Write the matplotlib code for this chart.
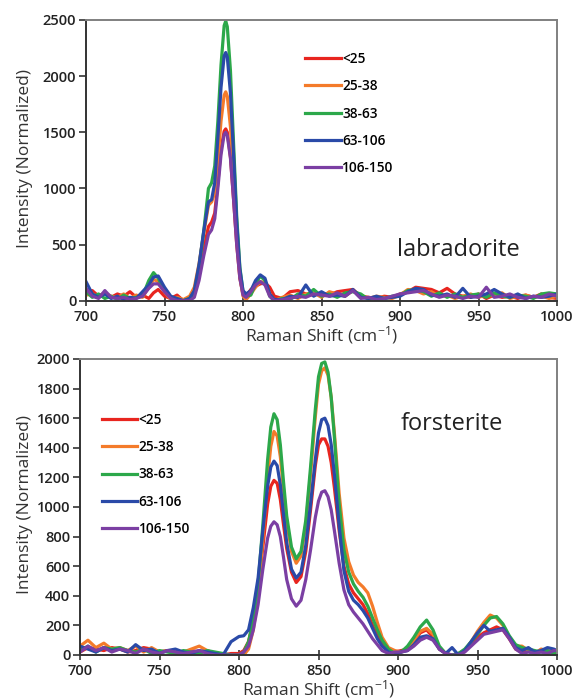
import numpy as np
import matplotlib
matplotlib.use("Agg")
import matplotlib.pyplot as plt

plt.rcParams['font.family'] = ['Open Sans', 'DejaVu Sans']
plt.rcParams['mathtext.default'] = 'regular'

# ----------------------------- data -----------------------------
labels = ['<25', '25-38', '38-63', '63-106', '106-150']
colors = ['#e8251f', '#f47b2a', '#2ca84a', '#2a4aa8', '#7b3fa3']

# labradorite
lab_x = ([700, 704, 708, 712, 716, 720, 724, 728, 732, 736, 740, 743, 746, 750, 754, 758, 762, 766]
         + [769, 772, 775, 778, 780, 782, 784, 786, 788, 789, 790, 792, 794, 796, 798, 800, 802]
         + [805, 808, 811, 814, 817, 820]
         + list(range(825, 1001, 5)))
lab_lt25 = ([60, 90, 40, 70, 30, 60, 40, 80, 30, 50, 20, 70, 100, 40, 20, 50, 0, 10]
            + [60, 250, 460, 660, 700, 780, 1050, 1350, 1510, 1530, 1500, 1280, 900, 500, 200, 60, 40]
            + [100, 130, 150, 160, 120, 40]
            + [20, 80, 90, 60, 50, 70, 50, 80, 90, 100, 40, 30, 20, 40, 30, 60, 80, 120,
               110, 100, 70, 110, 60, 40, 30, 60, 20, 50, 30, 40, 20, 50, 30, 60, 30, 20])
lab_25_38 = ([50, 60, 30, 70, 40, 30, 60, 20, 50, 30, 120, 190, 170, 80, 10, 30, 10, 40]
             + [120, 330, 600, 850, 880, 960, 1250, 1600, 1830, 1860, 1820, 1550, 1100, 600, 220, 40, 10]
             + [60, 120, 170, 160, 60, 0]
             + [30, 50, 20, 60, 70, 30, 80, 60, 40, 90, 50, 20, 40, 30, 20, 50, 100, 90,
                60, 80, 40, 50, 20, 40, 60, 30, 50, 40, 70, 20, 40, 50, 30, 40, 20, 40])
lab_38_63 = ([80, 30, 60, 20, 40, 10, 50, 20, 30, 40, 180, 250, 200, 90, 30, 10, 0, 20]
             + [80, 300, 620, 1000, 1050, 1200, 1600, 2100, 2450, 2490, 2440, 2050, 1400, 750, 300, 80, 40]
             + [50, 150, 220, 180, 40, 0]
             + [20, 10, 60, 40, 100, 40, 60, 30, 70, 80, 60, 10, 30, 20, 40, 50, 90, 100,
                80, 40, 70, 30, 60, 30, 50, 60, 30, 70, 40, 30, 50, 40, 20, 60, 70, 60])
lab_63_106 = ([170, 60, 30, 60, 20, 40, 10, 30, 20, 80, 140, 210, 220, 120, 40, 20, 0, 20]
              + [90, 320, 620, 880, 900, 1050, 1450, 1900, 2180, 2210, 2170, 1850, 1300, 700, 280, 90, 60]
              + [90, 180, 230, 200, 60, 10]
              + [10, 40, 30, 140, 40, 80, 40, 50, 40, 100, 30, 20, 40, 20, 30, 40, 80, 110,
                 100, 50, 40, 60, 30, 110, 30, 40, 60, 100, 60, 30, 60, 20, 40, 30, 40, 60])
lab_106_150 = ([110, 40, 20, 90, 30, 20, 30, 10, 20, 40, 110, 150, 150, 80, 20, 0, 0, 0]
               + [30, 180, 400, 590, 630, 730, 1000, 1300, 1480, 1500, 1470, 1270, 900, 500, 200, 50, 30]
               + [80, 140, 170, 140, 40, 0]
               + [10, 20, 40, 30, 60, 50, 40, 70, 40, 90, 20, 30, 10, 20, 40, 60, 70, 80,
                  90, 60, 30, 50, 40, 20, 40, 30, 120, 30, 40, 60, 30, 20, 40, 30, 60, 40])

# forsterite
fo_x = (list(range(700, 796, 5))
        + [800, 803, 806, 809, 812, 815, 818, 820, 822, 824, 826, 828, 830, 833, 836, 839, 842,
           845, 848, 850, 852, 854, 856, 858, 860, 863, 866, 869, 872, 875, 878, 881, 884, 887]
        + list(range(890, 999, 4)) + [1000])
fo_lt25 = ([20, 50, 40, 30, 50, 40, 20, 30, 50, 40, 20, 30, 20, 10, 30, 20, 30, 10, 0, 10]
           + [10, 30, 90, 230, 450, 730, 1020, 1140, 1180, 1160, 1050, 880, 720, 560, 490, 530, 700,
              980, 1280, 1420, 1460, 1460, 1410, 1300, 1130, 840, 600, 480, 420, 380, 340, 280, 200, 130]
           + [70, 30, 20, 30, 40, 90, 150, 170, 120, 40, 10, 0, 10, 30, 70,
              120, 150, 170, 190, 170, 110, 40, 20, 40, 10, 30, 20, 20, 10])
fo_25_38 = ([60, 100, 50, 80, 40, 50, 30, 60, 20, 50, 20, 30, 10, 20, 40, 60, 30, 0, 0, 0]
            + [0, 0, 40, 170, 400, 790, 1200, 1410, 1510, 1480, 1340, 1120, 900, 700, 620, 670, 880,
               1220, 1610, 1830, 1920, 1940, 1890, 1740, 1500, 1090, 790, 630, 540, 490, 460, 420, 330, 220]
            + [120, 50, 30, 20, 40, 100, 160, 180, 140, 50, 10, 0, 0, 30, 90,
               160, 220, 270, 250, 200, 120, 60, 60, 30, 10, 40, 30, 20, 20])
fo_38_63 = ([30, 60, 20, 50, 40, 50, 30, 20, 40, 10, 30, 20, 10, 30, 20, 10, 30, 20, 10, 0]
            + [0, 20, 90, 240, 480, 880, 1320, 1540, 1630, 1590, 1420, 1170, 940, 730, 650, 700, 910,
               1270, 1660, 1880, 1970, 1980, 1910, 1740, 1470, 1020, 710, 560, 480, 430, 390, 330, 250, 170]
            + [100, 40, 10, 20, 60, 120, 190, 236, 170, 60, 10, 0, 10, 40, 90,
               140, 200, 250, 260, 210, 130, 70, 50, 40, 30, 20, 30, 10, 10])
fo_63_106 = ([60, 40, 20, 50, 30, 40, 20, 70, 30, 40, 10, 30, 40, 20, 10, 30, 20, 10, 0, 90]
             + [125, 130, 170, 320, 520, 840, 1140, 1270, 1310, 1280, 1150, 950, 760, 580, 520, 560, 740,
                1020, 1320, 1500, 1590, 1600, 1550, 1420, 1220, 870, 570, 430, 370, 340, 300, 250, 180, 110]
             + [60, 20, 10, 20, 30, 70, 120, 130, 110, 40, 10, 50, 0, 30, 90,
                150, 200, 160, 170, 180, 120, 50, 30, 50, 20, 30, 50, 40, 30])
fo_106_150 = ([20, 60, 30, 50, 20, 40, 30, 10, 40, 20, 10, 30, 20, 10, 20, 30, 10, 0, 0, 0]
              + [0, 20, 60, 170, 340, 580, 790, 870, 900, 880, 800, 660, 510, 380, 330, 370, 510,
                 710, 930, 1040, 1100, 1110, 1070, 980, 840, 620, 440, 340, 290, 250, 210, 160, 110, 70]
              + [30, 10, 20, 20, 30, 60, 100, 120, 100, 40, 10, 0, 0, 20, 60,
                 100, 140, 150, 160, 170, 110, 40, 10, 20, 10, 20, 10, 30, 30])

lab_series = [lab_lt25, lab_25_38, lab_38_63, lab_63_106, lab_106_150]
fo_series = [fo_lt25, fo_25_38, fo_38_63, fo_63_106, fo_106_150]

# ----------------------------- plot -----------------------------
W, H = 582, 700
fig = plt.figure(figsize=(W / 100, H / 100), dpi=100)
ax1 = fig.add_axes([86 / W, 1 - 300.7 / H, (557 - 86) / W, (300.7 - 20) / H])
ax2 = fig.add_axes([80 / W, 1 - 655 / H, (557 - 80) / W, (655 - 359) / H])


def style(ax, ymax, ystep):
    ax.set_xlim(700, 1000)
    ax.set_ylim(0, ymax)
    ax.set_xticks(np.arange(700, 1001, 50))
    ax.set_yticks(np.arange(0, ymax + 1, ystep))
    for s in ['left', 'bottom']:
        ax.spines[s].set_color('#333333')
        ax.spines[s].set_linewidth(1.4)
    for s in ['top', 'right']:
        ax.spines[s].set_color('#808080')
        ax.spines[s].set_linewidth(1.4)
    ax.tick_params(axis='y', direction='out', length=5, width=1.2, color='#333333',
                   labelsize=10.5, pad=2)
    ax.tick_params(axis='x', direction='inout', length=7, width=1.2, color='#333333',
                   labelsize=10.5, pad=3)
    for lab in ax.get_xticklabels() + ax.get_yticklabels():
        lab.set_fontweight('semibold')
        lab.set_color('#222222')
    ax.set_xlabel('Raman Shift (cm$^{-1}$)', fontsize=12.5, color='#333333', labelpad=0)


for ys, c, lab in zip(lab_series, colors, labels):
    ax1.plot(lab_x, ys, color=c, lw=2.3, label=lab, solid_joinstyle='round')
for ys, c, lab in zip(fo_series, colors, labels):
    ax2.plot(fo_x, ys, color=c, lw=2.3, label=lab, solid_joinstyle='round')

style(ax1, 2500, 500)
style(ax2, 2000, 200)

leg_kw = dict(frameon=False, handlelength=2.6, handletextpad=0.1, labelspacing=0.98,
              prop={'size': 9.8, 'weight': 'semibold'})
ax1.legend(loc='upper left', bbox_to_anchor=(0.44, 0.93), **leg_kw)
ax2.legend(loc='upper left', bbox_to_anchor=(0.02, 0.86), **leg_kw)

ax1.text(0.79, 0.18, 'labradorite', transform=ax1.transAxes, fontsize=17,
         ha='center', va='center', color='#222222')
ax2.text(0.78, 0.78, 'forsterite', transform=ax2.transAxes, fontsize=17,
         ha='center', va='center', color='#222222')

fig.text(25 / W, 1 - 158 / H, 'Intensity (Normalized)', rotation=90, fontsize=12.5,
         ha='center', va='center', color='#333333')
fig.text(25 / W, 1 - 505 / H, 'Intensity (Normalized)', rotation=90, fontsize=12.5,
         ha='center', va='center', color='#333333')

fig.savefig('out.png', dpi=100, facecolor='white')
